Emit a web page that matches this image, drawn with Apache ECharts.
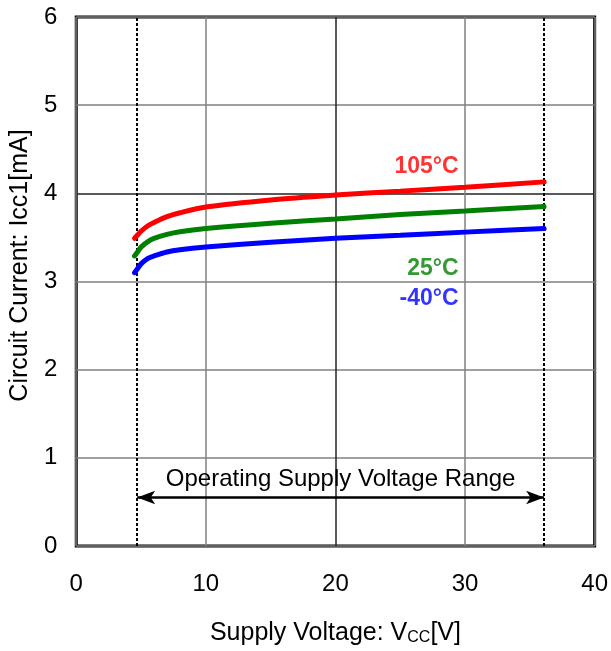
<!DOCTYPE html>
<html>
<head>
<meta charset="utf-8">
<script src="https://cdn.jsdelivr.net/npm/echarts@6/dist/echarts.min.js"></script>
<style>
  html, body { margin: 0; padding: 0; background: #fff; }
  #chart { width: 611px; height: 651px; }
</style>
</head>
<body>
<div id="chart"></div>
<script>
// Supply voltage sample points [V]
const vcc = [4.5, 4.75, 5, 5.5, 6, 7, 8, 10, 15, 20, 25, 30, 36.1];
// Circuit current Icc1 [mA] per ambient temperature
const icc105 = [3.49, 3.53, 3.57, 3.63, 3.67, 3.735, 3.78, 3.845, 3.925, 3.98, 4.025, 4.07, 4.13];
const icc25  = [3.29, 3.34, 3.39, 3.45, 3.49, 3.535, 3.565, 3.60, 3.66, 3.71, 3.76, 3.80, 3.85];
const iccM40 = [3.10, 3.15, 3.20, 3.26, 3.29, 3.335, 3.36, 3.39, 3.445, 3.49, 3.525, 3.56, 3.60];

// Operating supply voltage range boundaries [V]
const rangeMin = 4.7;
const rangeMax = 36.1;

// Temperature labels: [text, x, y, colour]
const tempLabels = [
  ['105°C', 29.5, 4.30, '#ff0000'],
  ['25°C', 29.5, 3.15, '#008000'],
  ['-40°C', 29.5, 2.80, '#0000ff']
];

const xTicks = [0, 10, 20, 30, 40];
const yTicks = [0, 1, 2, 3, 4, 5, 6];

const font = 'Liberation Sans, Arial, sans-serif';
const pair = (ys) => vcc.map((v, i) => [v, ys[i]]);

const chart = echarts.init(document.getElementById('chart'), null, { renderer: 'canvas' });

const curve = (name, data, color) => ({
  name, type: 'line', data: pair(data), smooth: 0.3,
  showSymbol: false, symbol: 'none',
  lineStyle: { color, width: 5, cap: 'round' },
  z: 5, silent: true
});

chart.setOption({
  animation: false,
  backgroundColor: '#fff',
  grid: {
    left: 76, top: 17, right: 13, bottom: 103,
    show: true, borderColor: '#000', borderWidth: 3, backgroundColor: 'transparent'
  },
  xAxis: {
    type: 'value', min: xTicks[0], max: xTicks[xTicks.length - 1], interval: 10,
    axisLine: { show: false }, axisTick: { show: false },
    axisLabel: { fontFamily: font, fontSize: 24, color: '#000', margin: 26 },
    splitLine: { show: true, lineStyle: { color: ['#808080', '#808080', '#222', '#808080', '#808080'], width: 1.5 } },
    name: '{a|Supply Voltage: V}{s|CC}{a|[V]}',
    nameLocation: 'middle', nameGap: 75,
    nameTextStyle: {
      rich: {
        a: { fontFamily: font, fontSize: 25, color: '#000' },
        s: { fontFamily: font, fontSize: 16, color: '#000', verticalAlign: 'bottom', padding: [9, 0, 0, 0] }
      }
    }
  },
  yAxis: {
    type: 'value', min: yTicks[0], max: yTicks[yTicks.length - 1], interval: 1,
    axisLine: { show: false }, axisTick: { show: false },
    axisLabel: { fontFamily: font, fontSize: 24, color: '#000', margin: 19 },
    splitLine: { show: true, lineStyle: { color: ['#808080', '#808080', '#808080', '#808080', '#222', '#808080', '#808080'], width: 1.5 } },
    name: 'Circuit Current: Icc1[mA]',
    nameLocation: 'middle', nameGap: 43,
    nameTextStyle: { fontFamily: font, fontSize: 25, color: '#000', padding: [0, 0, 0, 32] }
  },
  series: [
    curve('105°C', icc105, '#ff0000'),
    curve('25°C', icc25, '#008000'),
    curve('-40°C', iccM40, '#0000ff'),
    {
      // range boundaries and the double-headed arrow
      type: 'line', data: [], silent: true,
      markLine: {
        silent: true, animation: false,
        symbol: 'none',
        label: { show: false },
        data: [
          { xAxis: rangeMin, lineStyle: { color: '#000', type: [3, 2], width: 2 } },
          { xAxis: rangeMax, lineStyle: { color: '#000', type: [3, 2], width: 2 } },
          [
            { coord: [rangeMin, 0.55], symbol: 'arrow', symbolSize: [10, 18] },
            {
              coord: [rangeMax, 0.55], symbol: 'arrow', symbolSize: [10, 18],
              lineStyle: { color: '#000', type: 'solid', width: 2.5 },
              label: {
                show: true, position: 'middle', distance: 6,
                formatter: 'Operating Supply Voltage Range',
                fontFamily: font, fontSize: 24, color: '#000'
              }
            }
          ]
        ]
      },
      z: 4
    },
    {
      type: 'scatter', silent: true, symbolSize: 0,
      data: tempLabels.map(t => ({
        value: [t[1], t[2]],
        label: {
          show: true, position: 'inside', align: 'right', verticalAlign: 'middle',
          formatter: t[0], color: t[3], fontFamily: font, fontSize: 23, fontWeight: 'bold'
        }
      })),
      z: 6
    }
  ]
});
</script>
</body>
</html>
